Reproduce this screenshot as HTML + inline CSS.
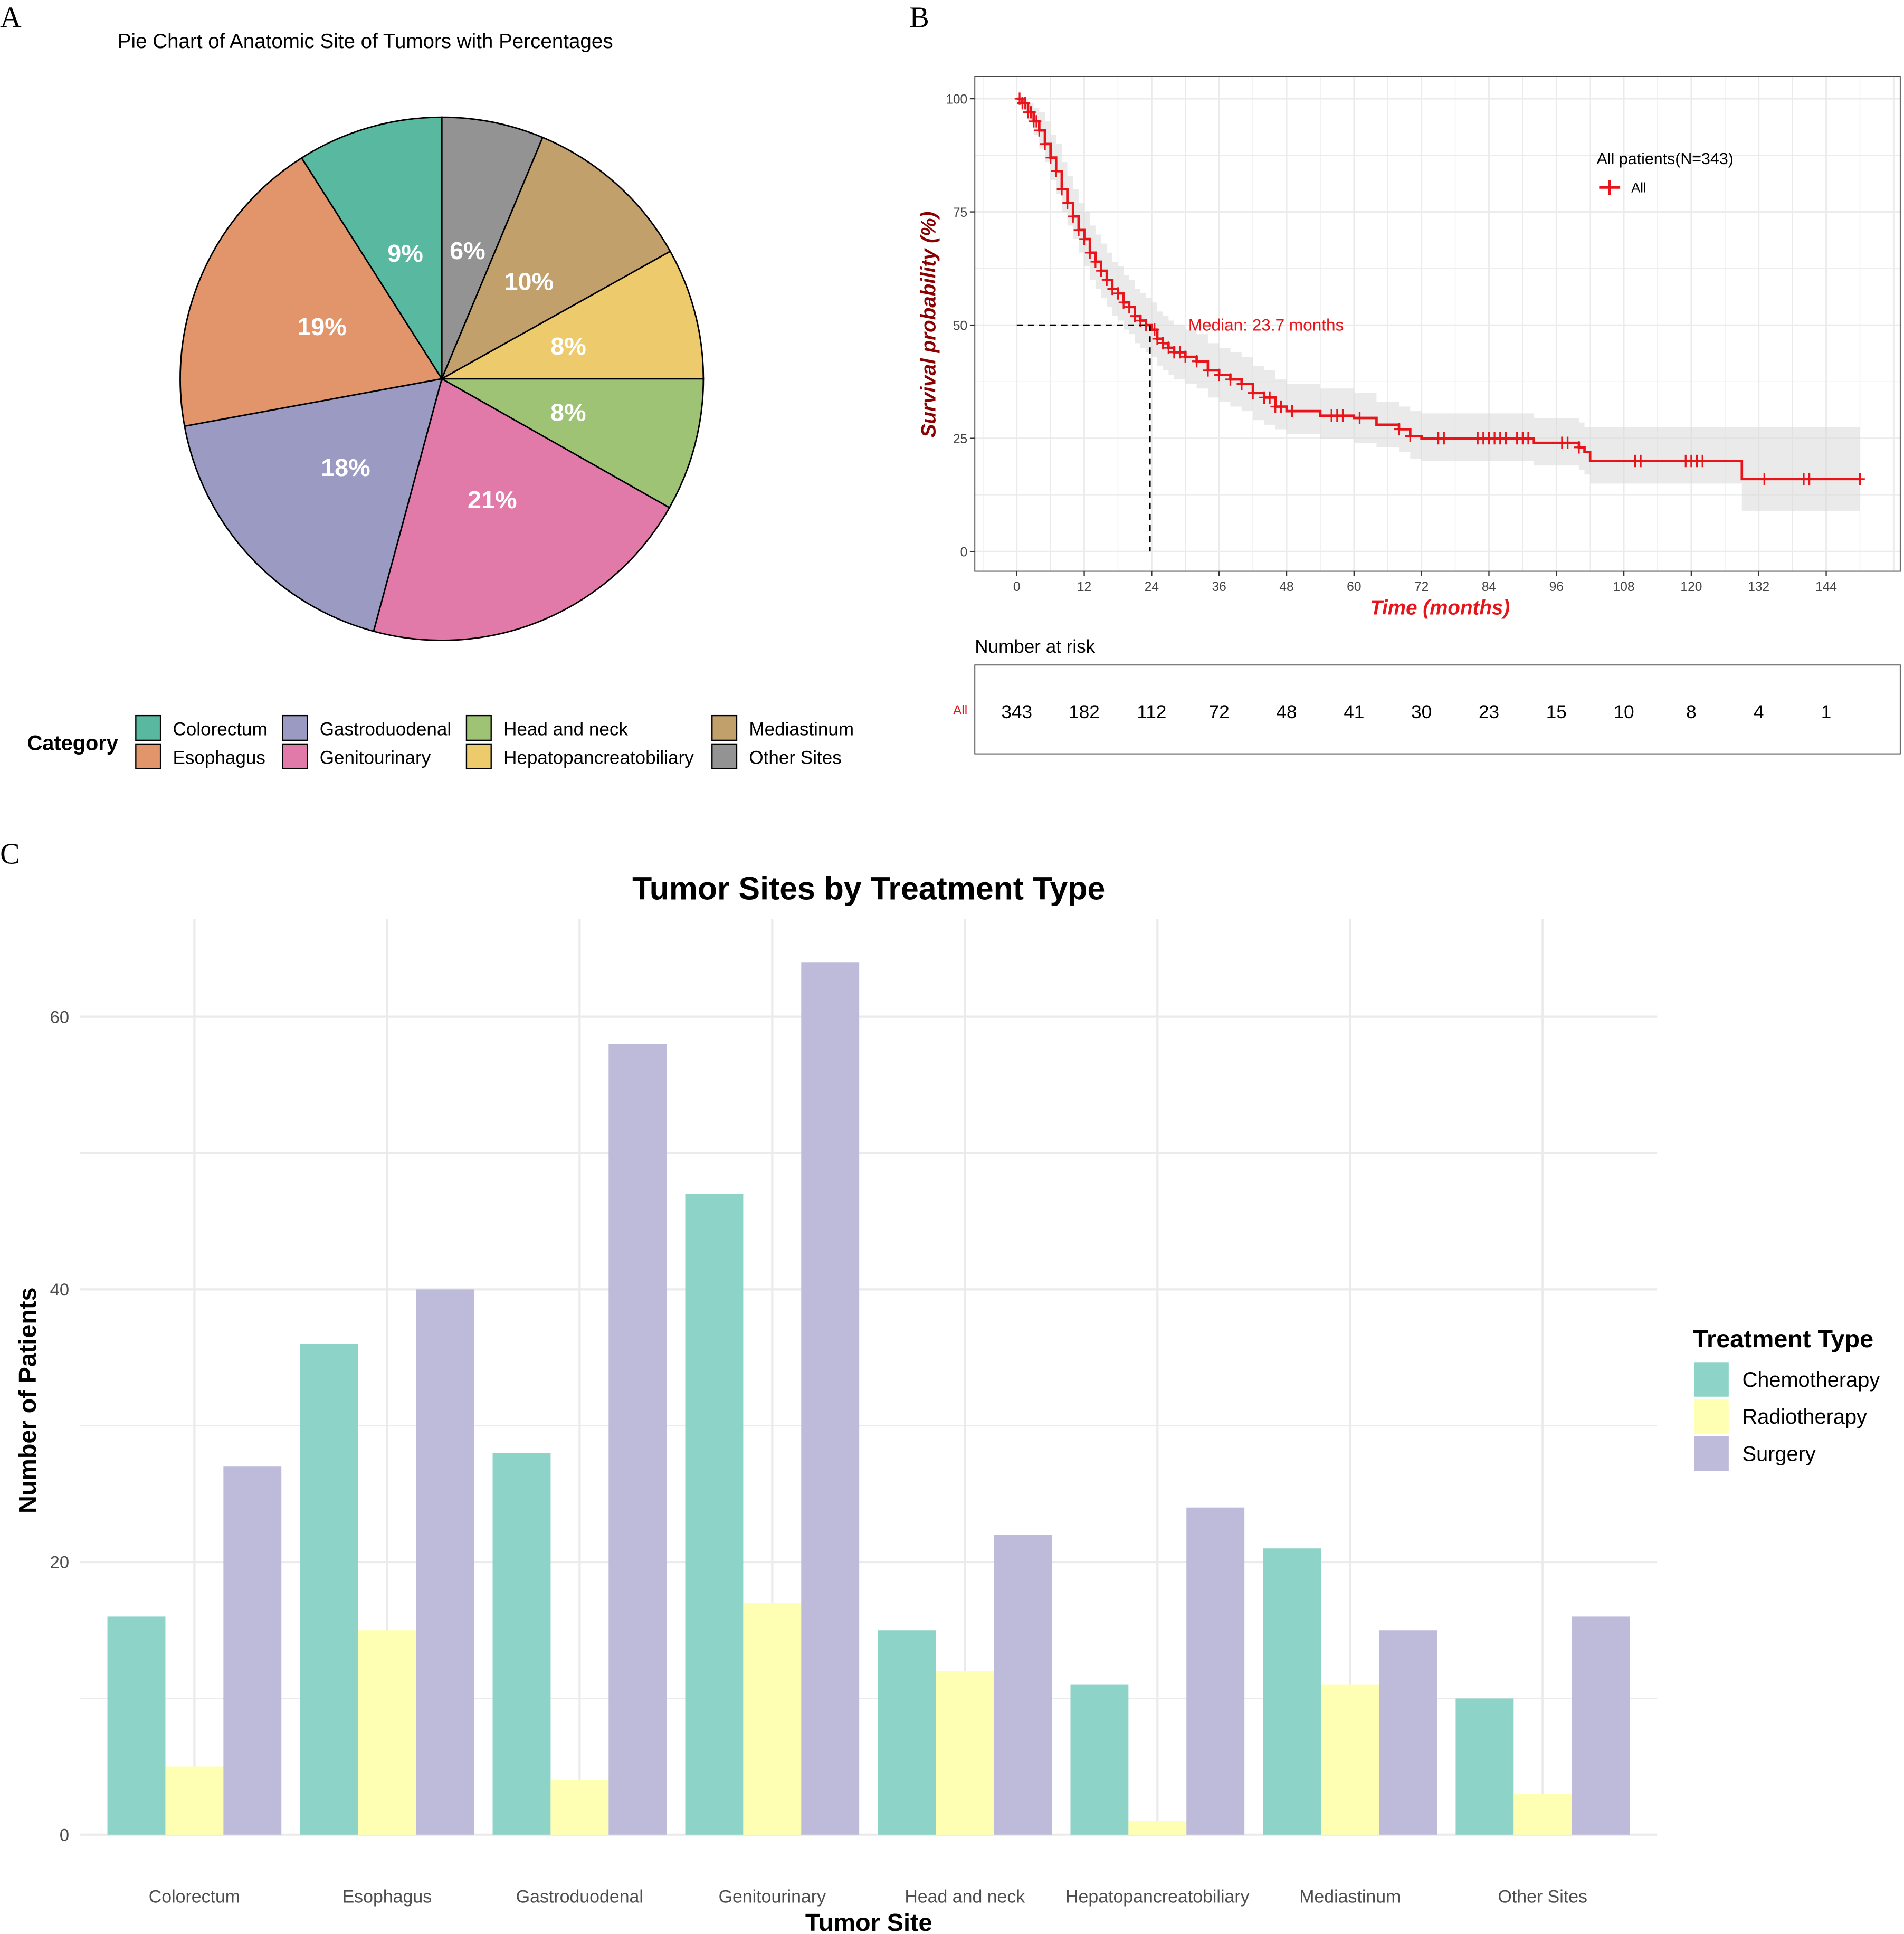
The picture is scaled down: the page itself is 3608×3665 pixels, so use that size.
<!DOCTYPE html>
<html><head><meta charset="utf-8"><style>html,body{margin:0;padding:0;background:#fff}svg{display:block}text{font-family:"Liberation Sans",sans-serif}</style></head>
<body>
<svg id="root" width="3608" height="3665" viewBox="0 0 1543 1567.5" xmlns="http://www.w3.org/2000/svg">
<rect width="1543" height="1567.5" fill="#fff"/>
<text x="0" y="22" font-size="24" style="font-family:'Liberation Serif',serif">A</text>
<text x="737" y="22" font-size="24" style="font-family:'Liberation Serif',serif">B</text>
<text x="0" y="700" font-size="24" style="font-family:'Liberation Serif',serif">C</text>
<text x="296" y="39" font-size="16.5" text-anchor="middle">Pie Chart of Anatomic Site of Tumors with Percentages</text>
<g id="pie"></g>
<g id="pieLegend"></g>
<g id="km"></g>
<g id="bar"></g>
</svg>
<script>
const NS="http://www.w3.org/2000/svg";
function mk(p,t,a,txt){const e=document.createElementNS(NS,t);for(const k in a)e.setAttribute(k,a[k]);if(txt!==undefined)e.textContent=txt;p.appendChild(e);return e;}

// ---------- PIE DATA ----------
const pieCats=["Other Sites","Mediastinum","Hepatopancreatobiliary","Head and neck","Genitourinary","Gastroduodenal","Esophagus","Colorectum"];
const pieVals=[6.3,10.6,8.1,8.2,21.0,17.9,18.9,9.0];
const pieLabels=["6%","10%","8%","8%","21%","18%","19%","9%"];
const pieColors=["#939393","#c2a06b","#edca6c","#9ec375","#e27aa9","#9a9ac2","#e2956b","#59b9a0"];
(function(){
 const g=document.getElementById('pie');const cx=358,cy=307,r=212;
 const tot=pieVals.reduce((a,b)=>a+b,0);let acc=0;
 pieVals.forEach((v,i)=>{
  const a0=acc/tot*2*Math.PI;acc+=v;const a1=acc/tot*2*Math.PI;
  const x0=cx+r*Math.sin(a0),y0=cy-r*Math.cos(a0),x1=cx+r*Math.sin(a1),y1=cy-r*Math.cos(a1);
  const p=mk(g,'path',{d:`M${cx},${cy}L${x0},${y0}A${r},${r} 0 ${a1-a0>Math.PI?1:0} 1 ${x1},${y1}Z`,fill:pieColors[i],stroke:'#000','stroke-width':1.2});
  
  
  const am=(a0+a1)/2;
  const t=mk(g,'text',{x:cx+106*Math.sin(am),y:cy-106*Math.cos(am)+7,'text-anchor':'middle','font-size':20,'font-weight':'bold',fill:'#fff'},pieLabels[i]);
  
  
 });
 const L=document.getElementById('pieLegend');
 mk(L,'text',{x:22,y:608,'font-size':17,'font-weight':'bold'},'Category');
 const items=[["Colorectum","#59b9a0",110,580],["Esophagus","#e2956b",110,603],["Gastroduodenal","#9a9ac2",229,580],["Genitourinary","#e27aa9",229,603],["Head and neck","#9ec375",378,580],["Hepatopancreatobiliary","#edca6c",378,603],["Mediastinum","#c2a06b",577,580],["Other Sites","#939393",577,603]];
 items.forEach(it=>{
  const r=mk(L,'rect',{x:it[2],y:it[3],width:20,height:20,fill:it[1],stroke:'#000','stroke-width':1});
  
  
  const t=mk(L,'text',{x:it[2]+30,y:it[3]+16,'font-size':15},it[0]);
  
  
 });
})();

// ---------- KM DATA ----------
const kmTimes=[0,1,2,3,4,5,6,7,8,9,10,11,12,13,14,15,16,17,18,19,20,21,22,23,24,25,26,27,28,30,32,34,36,38,40,42,44,46,48,54,58,60,63,64,66,68,70,72,90,92,98,100,101,102,129,150];
const kmSurv=[100,99,97,95,93,90,87,84,80,77,74,71,69,66,64,62,60,58,57,55,54,52,51,50,49,47,46,45,44,43,42,40,39,38,37,35,34,32,31,30,30,29.5,29.5,28,28,27,25.5,25,25,24,24,23,22,20,16,16];
const kmLower=[100,98,95,92,89,86,82,79,75,72,69,66,63,60,58,56,54,52,51,49,48,46,45,44,43,41,40,39,38,37,36,34,33,32,31,29,28,27,26,25,25,24,24,23,23,22,20.5,20,20,19,19,18,17,15,9,9];
const kmUpper=[100,100,99,98,97,95,92,90,86,83,80,77,75,72,70,68,66,64,63,61,60,58,57,56,55,53,52,51,50,49,48,46,45,44,43,41,40,38,37,36,36,35,35,33,33,32,31,30.5,30.5,29.5,29.5,28.5,27.5,27.5,27.5,27.5];
const kmCensor=[0.5,1,1.5,2,2.5,3,3.5,4,5,6,7,8,9,10,11,12,13,14,15,16,17,18,19,20,21,22,23,24.5,25,26,27,28,29,30,32,34,36,38,40,42,44,45,46,47,49,56,57,58,61,68,70,75,76,82,83,84,85,86,87,89,90,91,97,98,100,110,111,119,120,121,122,133,140,141,150];
const kmTicks=[0,12,24,36,48,60,72,84,96,108,120,132,144];
const yTicksKM=[0,25,50,75,100];
const riskNums=["343","182","112","72","48","41","30","23","15","10","8","4","1"];
(function(){
 const g=document.getElementById('km');
 const X=t=>824+t*(1480-824)/144, Y=s=>447-s*(447-80)/100;
 mk(g,'rect',{x:790,y:62,width:750,height:401,fill:'#fff'});
 for(let t=-6;t<=156;t+=6){const x=X(t);if(x<790||x>1540)continue;mk(g,'line',{x1:x,x2:x,y1:62,y2:463,stroke:'#ebebeb','stroke-width':t%12===0?1.2:0.6});}
 for(let s=-12.5;s<=112.5;s+=12.5){const y=Y(s);if(y<62||y>463)continue;mk(g,'line',{x1:790,x2:1540,y1:y,y2:y,stroke:'#ebebeb','stroke-width':s%25===0?1.2:0.6});}
 let up='',lo='';
 for(let i=0;i<kmTimes.length;i++){const x0=X(kmTimes[i]),x1=X(i+1<kmTimes.length?kmTimes[i+1]:kmTimes[i]);
  up+=(i?'L':'M')+x0+','+Y(kmUpper[i])+'L'+x1+','+Y(kmUpper[i]);}
 for(let i=kmTimes.length-1;i>=0;i--){const x0=X(kmTimes[i]),x1=X(i+1<kmTimes.length?kmTimes[i+1]:kmTimes[i]);
  lo+='L'+x1+','+Y(kmLower[i])+'L'+x0+','+Y(kmLower[i]);}
 const band=mk(g,'path',{d:up+lo+'Z',fill:'#d9d9d9','fill-opacity':0.55});
 
 
 let d='';
 for(let i=0;i<kmTimes.length;i++){const x0=X(kmTimes[i]),x1=X(i+1<kmTimes.length?kmTimes[i+1]:kmTimes[i]);d+=(i?'L':'M')+x0+','+Y(kmSurv[i])+'L'+x1+','+Y(kmSurv[i]);}
 const line=mk(g,'path',{d:d,fill:'none',stroke:'#e8141a','stroke-width':2});
 
 
 const survAt=t=>{let s=100;for(let i=0;i<kmTimes.length;i++)if(kmTimes[i]<=t)s=kmSurv[i];return s;};
 kmCensor.forEach(t=>{const x=X(t),y=Y(survAt(t));
  const c=mk(g,'path',{d:`M${x-4},${y}H${x+4}M${x},${y-5}V${y+5}`,stroke:'#e8141a','stroke-width':1.4});
  
  });
 mk(g,'path',{d:`M${X(0)},${Y(50)}H${X(23.7)}V${Y(0)}`,fill:'none',stroke:'#000','stroke-width':1.2,'stroke-dasharray':'5,4'});
 mk(g,'text',{x:963,y:268,'font-size':13.5,fill:'#e8141a'},'Median: 23.7 months');
 mk(g,'rect',{x:790,y:62,width:750,height:401,fill:'none',stroke:'#444','stroke-width':0.8});
 kmTicks.forEach((t,i)=>{mk(g,'line',{x1:X(t),x2:X(t),y1:463,y2:467,stroke:'#333'});mk(g,'text',{x:X(t),y:479,'font-size':10.5,'text-anchor':'middle',fill:'#444'},t);
  const r=mk(g,'text',{x:X(t),y:582,'font-size':15,'text-anchor':'middle'},riskNums[i]);
  
  });
 yTicksKM.forEach(s=>{mk(g,'line',{x1:786,x2:790,y1:Y(s),y2:Y(s),stroke:'#333'});mk(g,'text',{x:784,y:Y(s)+4,'font-size':10.5,'text-anchor':'end',fill:'#444'},s);});
 const yt=mk(g,'text',{x:758,y:263,'font-size':16.5,'font-weight':'bold','font-style':'italic',fill:'#8b0000','text-anchor':'middle',transform:'rotate(-90 758 263)'},'Survival probability (%)');
 
 
 const xt=mk(g,'text',{x:1167,y:498,'font-size':16.5,'font-weight':'bold','font-style':'italic',fill:'#e8141a','text-anchor':'middle'},'Time (months)');
 
 
 mk(g,'text',{x:1294,y:133,'font-size':13},'All patients(N=343)');
 mk(g,'path',{d:'M1296,152H1313M1304.5,146V158',stroke:'#e8141a','stroke-width':2});
 mk(g,'text',{x:1322,y:156,'font-size':11},'All');
 mk(g,'text',{x:790,y:529,'font-size':15},'Number at risk');
 mk(g,'rect',{x:790,y:539,width:750,height:72,fill:'none',stroke:'#444','stroke-width':0.8});
 mk(g,'text',{x:784,y:579,'font-size':10.5,fill:'#e8141a','text-anchor':'end'},'All');
})();

// ---------- BAR DATA ----------
const barCats=["Colorectum","Esophagus","Gastroduodenal","Genitourinary","Head and neck","Hepatopancreatobiliary","Mediastinum","Other Sites"];
const chemo=[16,36,28,47,15,11,21,10];
const radio=[5,15,4,17,12,1,11,3];
const surgery=[27,40,58,64,22,24,15,16];
const barYTicks=[0,20,40,60];
(function(){
 const g=document.getElementById('bar');
 const left=65,right=1343,top=745,base=1487;
 const Y=v=>base-v*(base-824)/60;
 const CX=i=>157.5+156.1*i;
 for(let v=0;v<=65;v+=10){mk(g,'line',{x1:left,x2:right,y1:Y(v),y2:Y(v),stroke:'#ebebeb','stroke-width':v%20===0?1.8:0.9});}
 barCats.forEach((c,i)=>mk(g,'line',{x1:CX(i),x2:CX(i),y1:top,y2:base,stroke:'#ebebeb','stroke-width':1.8}));
 const series=[[chemo,'#8dd3c7','chemotherapy'],[radio,'#ffffb3','radiotherapy'],[surgery,'#bebada','surgery']];
 const bw=47;
 series.forEach((s,k)=>{s[0].forEach((v,i)=>{
  const x=CX(i)-1.5*bw+k*bw;
  const r=mk(g,'rect',{x:x,y:Y(v),width:bw,height:Y(0)-Y(v),fill:s[1]});
  
  
 });});
 barYTicks.forEach(v=>mk(g,'text',{x:56,y:Y(v)+5,'font-size':14,'text-anchor':'end',fill:'#4d4d4d'},v));
 barCats.forEach((c,i)=>{const t=mk(g,'text',{x:CX(i),y:1542,'font-size':14.5,'text-anchor':'middle',fill:'#4d4d4d'},c);
  
  });
 const ti=mk(g,'text',{x:704,y:729,'font-size':26,'font-weight':'bold','text-anchor':'middle'},'Tumor Sites by Treatment Type');
 
 
 const xt=mk(g,'text',{x:704,y:1565,'font-size':20,'font-weight':'bold','text-anchor':'middle'},'Tumor Site');
 
 
 const yt=mk(g,'text',{x:29,y:1135,'font-size':20,'font-weight':'bold','text-anchor':'middle',transform:'rotate(-90 29 1135)'},'Number of Patients');
 
 
 mk(g,'text',{x:1372,y:1092,'font-size':20,'font-weight':'bold'},'Treatment Type');
 [['Chemotherapy','#8dd3c7'],['Radiotherapy','#ffffb3'],['Surgery','#bebada']].forEach((e,i)=>{
  const r=mk(g,'rect',{x:1373,y:1104+i*30,width:28,height:28,fill:e[1]});
  
  
  const t=mk(g,'text',{x:1412,y:1124+i*30,'font-size':17},e[0]);
  
  
 });
})();
</script>
</body></html>
